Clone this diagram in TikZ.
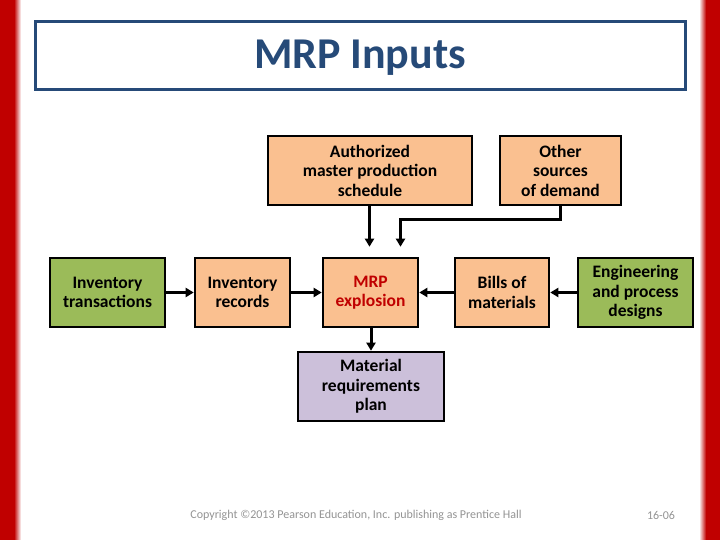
\documentclass[tikz,border=0pt]{standalone}
\usepackage{fontspec}
\setmainfont{Carlito}
\usetikzlibrary{arrows.meta,positioning}
\definecolor{slidered}{RGB}{192,0,0}
\definecolor{titleblue}{RGB}{38,74,120}
\definecolor{peach}{RGB}{250,192,144}
\definecolor{leafgreen}{RGB}{155,187,89}
\definecolor{lavender}{RGB}{204,192,218}
\definecolor{mrpred}{RGB}{192,0,0}

\begin{document}
\begin{tikzpicture}[x=1pt, y=-1pt,
    box/.style={draw, line width=2.6pt, align=center, font=\bfseries\fontsize{17.5}{19.5}\selectfont,
                inner sep=0pt, minimum height=69pt},
    inbox/.style={box, fill=peach},
    extbox/.style={box, fill=leafgreen},
    planbox/.style={box, fill=lavender},
    flow/.style={-{Triangle[length=8pt, width=9pt]}, line width=3pt},
    footer/.style={font=\fontsize{12}{14}\selectfont, text=gray!85}
]
\useasboundingbox (0,0) rectangle (720,540);

% side bands of the slide
\fill[slidered] (0,0) rectangle (14,540);
\shade[left color=slidered, right color=white] (14,0) rectangle (21,540);
\fill[slidered] (706,0) rectangle (720,540);
\shade[left color=white, right color=slidered] (699,0) rectangle (706,540);

% title
\node[draw=titleblue, line width=3pt, minimum width=650pt, minimum height=68pt] (title) at (360,56) {};
\node[font=\bfseries\fontsize{44}{46}\selectfont, text=titleblue] (titletext) at (360,58) {MRP Inputs};

% top row
\node[inbox, minimum width=204pt] (mps) at (370,170.5) {Authorized\\master production\\schedule};
\node[inbox, minimum width=121pt] (other) at (560.5,170.5) {Other\\sources\\of demand};

% middle row
\node[extbox, minimum width=115pt] (trans) at (107.5,292.5) {Inventory\\transactions};
\node[inbox, minimum width=95pt] (records) at (242.5,292.5) {Inventory\\records};
\node[inbox, minimum width=95pt, text=mrpred] (explode) at (370.5,292.5) {MRP\\explosion};
\node[inbox, minimum width=94pt] (bom) at (502,292.5) {Bills of\\materials};
\node[extbox, minimum width=115pt] (eng) at (635.5,292.5) {Engineering\\and process\\designs};

% output
\node[planbox, minimum width=146pt] (plan) at (371,386.5) {Material\\requirements\\plan};

% connectors
\coordinate (mpsin) at ([xshift=-1pt, yshift=10pt]explode.north);
\coordinate (otherin) at ([xshift=30pt, yshift=10pt]explode.north);
\coordinate (otherbend) at ([yshift=27pt]otherin);
\draw[flow] (mps.south -| mpsin) -- (mpsin);
\draw[flow] (other.south) |- (otherbend) -- (otherin);
\draw[flow] (trans) -- (records);
\draw[flow] (records) -- (explode);
\draw[flow] (bom) -- (explode);
\draw[flow] (eng) -- (bom);
\draw[flow] (explode.south -| plan) -- (plan);

% footer
\node[footer] (copy) at (356,515) {Copyright \textcopyright2013 Pearson Education, Inc. publishing as Prentice Hall};
\node[footer] (page) at (661,515) {16-06};
\end{tikzpicture}
\end{document}
